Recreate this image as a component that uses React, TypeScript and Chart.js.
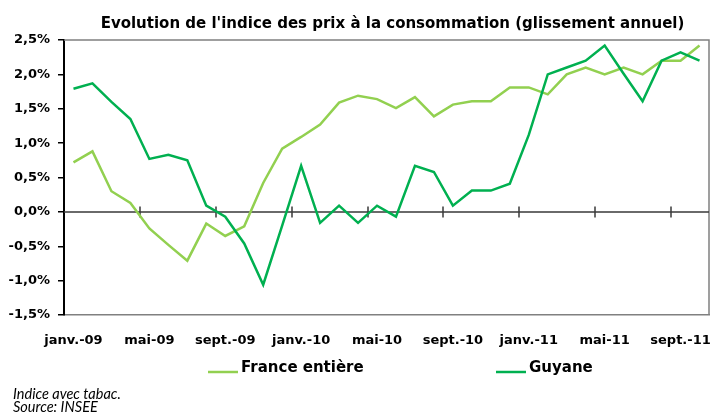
import { useEffect, useRef } from 'react';
import { Chart, registerables } from 'chart.js';

Chart.register(...registerables);

const months = [
  'janv.-09', 'févr.-09', 'mars-09', 'avr.-09', 'mai-09', 'juin-09', 'juil.-09', 'août-09', 'sept.-09', 'oct.-09', 'nov.-09', 'déc.-09',
  'janv.-10', 'févr.-10', 'mars-10', 'avr.-10', 'mai-10', 'juin-10', 'juil.-10', 'août-10', 'sept.-10', 'oct.-10', 'nov.-10', 'déc.-10',
  'janv.-11', 'févr.-11', 'mars-11', 'avr.-11', 'mai-11', 'juin-11', 'juil.-11', 'août-11', 'sept.-11', 'oct.-11',
];

const franceEntiere = [
  0.72, 0.88, 0.30, 0.13, -0.24, -0.48, -0.71, -0.17, -0.35, -0.21,
  0.42, 0.92, 1.09, 1.27, 1.59, 1.69, 1.64, 1.51, 1.67, 1.39,
  1.56, 1.61, 1.61, 1.81, 1.81, 1.71, 2.00, 2.10, 2.00, 2.10,
  2.00, 2.20, 2.20, 2.42,
];

const guyane = [
  1.79, 1.87, 1.60, 1.35, 0.77, 0.83, 0.75, 0.09, -0.07, -0.46,
  -1.06, -0.20, 0.67, -0.16, 0.09, -0.16, 0.09, -0.07, 0.67, 0.58,
  0.09, 0.31, 0.31, 0.41, 1.12, 2.00, 2.10, 2.20, 2.42, 2.01,
  1.61, 2.20, 2.32, 2.20,
];

const seriesNames = ['France entière', 'Guyane'];
const seriesColors = ['#92D050', '#00B050'];
const titleText = "Evolution de l'indice des prix à la consommation (glissement annuel)";
const notes = ['Indice avec tabac.', 'Source: INSEE'];
const yMin = -1.5;
const yMax = 2.5;
const yStep = 0.5;
const labelEvery = 4;

const FONT = '"DejaVu Sans", Verdana, sans-serif';

const decor = {
  id: 'decor',
  beforeDatasetsDraw(chart: any) {
    const { ctx, chartArea: a, scales } = chart;
    const x = scales.x;
    const y = scales.y;
    const y0 = y.getPixelForValue(0);
    ctx.save();
    // frame top & right
    ctx.strokeStyle = '#808080';
    ctx.lineWidth = 1.5;
    ctx.beginPath();
    ctx.moveTo(a.left, a.top);
    ctx.lineTo(a.right, a.top);
    ctx.lineTo(a.right, a.bottom);
    ctx.stroke();
    // zero line with tick marks
    ctx.strokeStyle = '#3a3a3a';
    ctx.lineWidth = 1.5;
    ctx.beginPath();
    ctx.moveTo(a.left, y0);
    ctx.lineTo(a.right, y0);
    for (let i = labelEvery; i < months.length; i += labelEvery) {
      const px = Math.round((x.getPixelForValue(i - 1) + x.getPixelForValue(i)) / 2);
      ctx.moveTo(px, y0 - 5.5);
      ctx.lineTo(px, y0 + 5.5);
    }
    ctx.stroke();
    ctx.restore();
  },
  afterDraw(chart: any) {
    const { ctx, chartArea: a } = chart;
    ctx.save();
    ctx.fillStyle = '#000';
    // title
    ctx.font = `bold 15px ${FONT}`;
    ctx.textAlign = 'center';
    ctx.textBaseline = 'alphabetic';
    ctx.fillText(titleText, (a.left + a.right) / 2 + 6, 28);
    // legend
    const legendX = [208, 496];
    ctx.font = `bold 15px ${FONT}`;
    ctx.textAlign = 'left';
    seriesNames.forEach((name, i) => {
      ctx.strokeStyle = seriesColors[i];
      ctx.lineWidth = 2.5;
      ctx.beginPath();
      ctx.moveTo(legendX[i], 372);
      ctx.lineTo(legendX[i] + 30, 372);
      ctx.stroke();
      ctx.fillStyle = '#000';
      ctx.fillText(name, legendX[i] + 33, 372);
    });
    // notes
    ctx.font = 'italic 14.5px Lato, "DejaVu Sans", sans-serif';
    notes.forEach((t, i) => ctx.fillText(t, 13, 399 + i * 13));
    ctx.restore();
  },
};

export default function App() {
  const ref = useRef<HTMLCanvasElement | null>(null);
  useEffect(() => {
    if (!ref.current) return;
    const chart = new Chart(ref.current, {
      type: 'line',
      data: {
        labels: months,
        datasets: [
          {
            label: seriesNames[0],
            data: franceEntiere,
            borderColor: seriesColors[0],
            backgroundColor: seriesColors[0],
            borderWidth: 2.5,
            pointRadius: 0,
            tension: 0,
            order: 1,
          },
          {
            label: seriesNames[1],
            data: guyane,
            borderColor: seriesColors[1],
            backgroundColor: seriesColors[1],
            borderWidth: 2.5,
            pointRadius: 0,
            tension: 0,
            order: 0,
          },
        ],
      },
      options: {
        responsive: false,
        animation: false,
        layout: { padding: { top: 40, right: 4, left: 0, bottom: 0 } },
        plugins: {
          legend: { display: false },
          title: { display: false },
          tooltip: { enabled: false },
        },
        scales: {
          x: {
            type: 'category',
            offset: true,
            grid: { display: false, drawTicks: true, tickLength: 18, offset: true },
            border: { display: true, color: '#808080', width: 1.5 },
            ticks: {
              autoSkip: false,
              maxRotation: 0,
              minRotation: 0,
              padding: 0,
              color: '#000',
              font: { family: FONT, size: 13, weight: 'bold' },
              callback: function (this: any, val: any, index: number) {
                return index % labelEvery === 0 ? this.getLabelForValue(val) : null;
              },
            },
            afterFit: (s: any) => {
              s.height = 99;
            },
          },
          y: {
            min: yMin,
            max: yMax,
            grid: { display: true, drawOnChartArea: false, drawTicks: true, tickLength: 6, color: '#000', lineWidth: 1.5 },
            border: { display: true, color: '#000', width: 2 },
            ticks: {
              stepSize: yStep,
              padding: 8,
              color: '#000',
              font: { family: FONT, size: 13, weight: 'bold' },
              callback: (v: any) => Number(v).toFixed(1).replace('.', ',') + '%',
            },
            afterFit: (s: any) => {
              s.width = 64;
            },
          },
        },
      },
      plugins: [decor],
    });
    return () => chart.destroy();
  }, []);
  return (
    <div style={{ position: 'absolute', left: 0, top: 0, width: 713, height: 414, background: '#fff' }}>
      <canvas ref={ref} width={713} height={414} style={{ display: 'block' }} />
    </div>
  );
}
